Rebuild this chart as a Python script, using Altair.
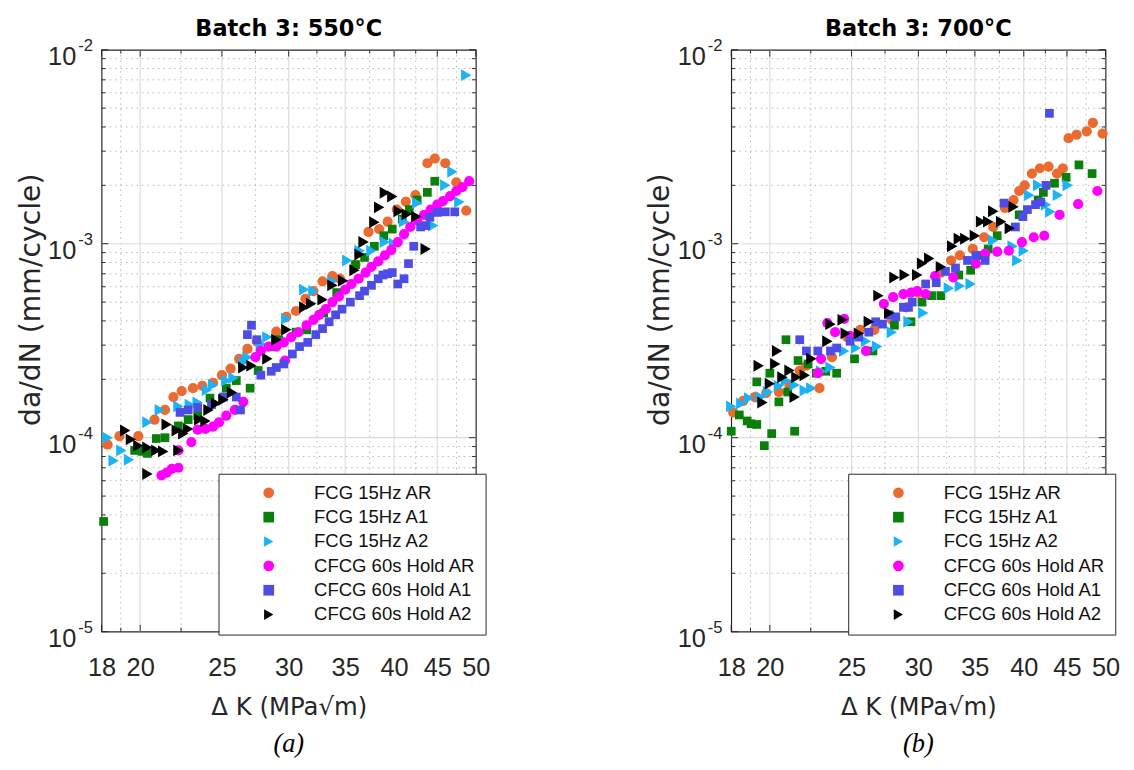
import altair as alt
import pandas as pd

SERIES = ["FCG 15Hz AR", "FCG 15Hz A1", "FCG 15Hz A2",
          "CFCG 60s Hold AR", "CFCG 60s Hold A1", "CFCG 60s Hold A2"]
COLORS = ["#EA6A2F", "#0A800A", "#1CB2F5", "#FF00FF", "#4D4DE6", "#000000"]
SHAPES = ["circle", "square", "triangle-right", "circle", "square", "triangle-right"]
SIZES = [110, 80, 150, 110, 80, 150]

# ---------------- Batch 3: 550 C ----------------
dk550_ar = [18.3, 18.9, 19.9, 20.8, 21.4, 21.9, 22.4, 23.1, 23.7, 24.4, 25.0, 25.6, 26.2, 26.8, 27.5,
            29.0, 29.8, 30.6, 31.4, 32.1, 32.9, 33.8, 34.5, 36.0, 37.3, 38.4, 39.3, 40.3, 41.3, 42.4,
            43.8, 44.7, 46.0, 47.4, 48.7]
dadn550_ar = [9.2e-5, 1.02e-4, 1.02e-4, 1.24e-4, 1.39e-4, 1.62e-4, 1.74e-4, 1.80e-4, 1.85e-4, 1.92e-4,
              2.10e-4, 2.27e-4, 2.55e-4, 2.87e-4, 3.14e-4, 3.52e-4, 4.2e-4, 4.5e-4, 5.2e-4, 5.7e-4,
              6.4e-4, 6.8e-4, 6.6e-4, 7.8e-4, 1.15e-3, 1.19e-3, 1.3e-3, 1.5e-3, 1.65e-3, 1.78e-3,
              2.6e-3, 2.75e-3, 2.6e-3, 2.07e-3, 1.48e-3]

dk550_a1 = [18.1, 19.7, 20.1, 20.4, 20.9, 21.4, 22.2, 22.8, 23.4, 24.2, 25.3, 26.0, 27.0, 27.6, 28.7,
            29.2, 30.6, 31.5, 33.0, 34.2, 36.0, 36.9, 37.9, 38.9, 39.8, 40.9, 41.7, 42.6, 43.8, 44.7]
dadn550_a1 = [3.7e-5, 8.6e-5, 8.5e-5, 8.3e-5, 9.9e-5, 1.0e-4, 1.15e-4, 1.24e-4, 1.3e-4, 1.6e-4,
              1.8e-4, 1.97e-4, 1.8e-4, 2.22e-4, 2.95e-4, 3.2e-4, 3.5e-4, 3.6e-4, 4.4e-4, 5.6e-4,
              7.8e-4, 8.5e-4, 9.7e-4, 1.1e-3, 1.19e-3, 1.34e-3, 1.5e-3, 1.68e-3, 1.84e-3, 2.1e-3]

dk550_a2 = [18.3, 18.6, 19.0, 19.4, 20.4, 21.1, 22.2, 22.9, 23.4, 24.0, 24.4, 25.3, 25.8, 26.5, 26.8,
            27.8, 28.3, 29.8, 31.3, 32.1, 33.8, 35.2, 36.4, 37.6, 39.0, 40.0, 41.1, 42.6, 44.5, 46.0,
            46.9, 47.8, 48.7]
dadn550_a2 = [1.0e-4, 7.6e-5, 8.6e-5, 7.7e-5, 1.2e-4, 1.39e-4, 1.45e-4, 1.48e-4, 1.52e-4, 1.76e-4,
              1.87e-4, 1.97e-4, 2.03e-4, 2.45e-4, 2.6e-4, 3.04e-4, 3.3e-4, 4.1e-4, 5.8e-4, 5.7e-4,
              6.4e-4, 8.2e-4, 9.2e-4, 9.2e-4, 1.02e-3, 1.0e-3, 1.3e-3, 1.62e-3, 1.24e-3, 2.0e-3,
              2.35e-3, 1.64e-3, 7.4e-3]

dk550_car = [21.2, 21.5, 21.8, 22.2, 22.2, 23.0, 23.4, 23.9, 24.4, 24.8, 25.3, 25.9, 26.5, 27.4, 27.8,
             28.4, 29.0, 29.6, 30.2, 30.8, 31.5, 32.1, 32.6, 33.2, 33.8, 34.4, 35.0, 35.6, 36.3, 37.0,
             37.6, 38.3, 39.0, 39.7, 40.4, 41.1, 41.8, 42.6, 43.4, 44.2, 45.0, 45.7, 46.6, 47.4, 48.2,
             49.1, 29.7]
dadn550_car = [6.4e-5, 6.6e-5, 6.9e-5, 7.0e-5, 8.6e-5, 9.5e-5, 1.1e-4, 1.11e-4, 1.14e-4, 1.2e-4,
               1.3e-4, 1.39e-4, 1.53e-4, 2.6e-4, 2.8e-4, 2.95e-4, 2.95e-4, 3.1e-4, 3.3e-4, 3.5e-4,
               3.8e-4, 4.05e-4, 4.3e-4, 4.6e-4, 5.0e-4, 5.35e-4, 5.8e-4, 6.2e-4, 6.6e-4, 7.1e-4,
               7.6e-4, 8.1e-4, 8.7e-4, 9.3e-4, 1.02e-3, 1.12e-3, 1.22e-3, 1.32e-3, 1.41e-3, 1.5e-3,
               1.59e-3, 1.66e-3, 1.76e-3, 1.87e-3, 1.96e-3, 2.1e-3, 2.5e-4]

dk550_ca1 = [22.3, 22.8, 23.4, 24.3, 25.1, 26.0, 26.3, 26.8, 27.1, 27.5, 28.6, 29.0, 29.6, 30.3, 30.9,
             31.6, 32.3, 32.9, 33.5, 34.1, 34.7, 35.5, 36.4, 36.9, 37.6, 38.3, 38.8, 39.3, 39.8, 40.4,
             41.1, 41.6, 42.2, 43.0, 43.6, 44.1, 45.0, 46.0, 47.2, 27.8]
dadn550_ca1 = [1.35e-4, 1.39e-4, 1.43e-4, 1.48e-4, 1.62e-4, 1.62e-4, 1.39e-4, 3.4e-4, 3.8e-4, 3.2e-4,
               2.2e-4, 2.3e-4, 2.4e-4, 2.7e-4, 2.95e-4, 3.1e-4, 3.4e-4, 3.65e-4, 3.96e-4, 4.3e-4,
               4.6e-4, 5.0e-4, 5.4e-4, 5.7e-4, 6.1e-4, 6.6e-4, 6.9e-4, 7.0e-4, 7.1e-4, 6.2e-4,
               6.6e-4, 7.9e-4, 9.7e-4, 1.22e-3, 1.24e-3, 1.37e-3, 1.45e-3, 1.46e-3, 1.46e-3, 2.1e-4]

dk550_ca2 = [19.2, 19.5, 19.9, 20.4, 20.9, 21.3, 20.4, 21.5, 22.1, 22.2, 22.8, 23.5, 24.1, 25.1, 25.7,
             26.5, 27.1, 28.3, 29.0, 29.8, 31.3, 31.9, 32.9, 33.8, 34.8, 35.9, 36.4, 36.8, 37.9, 38.4,
             39.0, 39.8, 40.5, 41.4, 42.5, 43.6, 22.5, 23.9, 24.6]
dadn550_ca2 = [1.09e-4, 9.8e-5, 9.1e-5, 8.9e-5, 8.6e-5, 8.5e-5, 6.5e-5, 1.17e-4, 1.09e-4, 8.6e-5,
               1.11e-4, 1.24e-4, 1.39e-4, 1.57e-4, 1.71e-4, 2.3e-4, 2.35e-4, 2.55e-4, 3.2e-4, 3.6e-4,
               4.7e-4, 4.9e-4, 5.15e-4, 6.1e-4, 6.45e-4, 7.3e-4, 8.8e-4, 1.02e-3, 1.29e-3, 1.54e-3,
               1.83e-3, 1.75e-3, 1.47e-3, 1.42e-3, 1.38e-3, 9.4e-4, 1.05e-4, 1.22e-4, 1.5e-4]

# ---------------- Batch 3: 700 C ----------------
dk700_ar = [18.1, 18.6, 19.2, 19.8, 20.5, 21.1, 21.7, 22.1, 22.9, 23.7, 24.7, 25.6, 26.6, 27.9, 29.0,
            30.0, 31.9, 32.8, 33.6, 34.8, 35.9, 36.8, 38.0, 38.9, 39.5, 40.1, 40.9, 41.8, 42.8, 43.8,
            44.5, 45.2, 46.2, 47.5, 48.3, 49.6]
dadn700_ar = [1.35e-4, 1.55e-4, 1.62e-4, 1.7e-4, 1.72e-4, 1.87e-4, 2.22e-4, 2.35e-4, 1.8e-4, 2.6e-4,
              3.3e-4, 3.6e-4, 3.6e-4, 4.05e-4, 4.7e-4, 5.6e-4, 7.1e-4, 8.2e-4, 8.7e-4, 9.4e-4,
              1.08e-3, 1.22e-3, 1.53e-3, 1.68e-3, 1.87e-3, 2.0e-3, 2.3e-3, 2.45e-3, 2.5e-3, 2.3e-3,
              2.45e-3, 3.5e-3, 3.65e-3, 3.8e-3, 4.2e-3, 3.7e-3]

dk700_a1 = [18.0, 18.4, 18.8, 19.0, 19.3, 19.7, 20.1, 21.4, 19.3, 20.0, 20.5, 20.9, 21.0, 21.6, 22.2,
            22.7, 23.3, 24.0, 25.2, 26.5, 28.1, 29.4, 30.3, 31.1, 31.9, 33.5, 34.6, 35.5, 36.3, 37.2,
            39.5, 41.6, 42.2, 43.5, 44.9, 46.5, 48.2]
dadn700_a1 = [1.08e-4, 1.31e-4, 1.22e-4, 1.18e-4, 1.17e-4, 9.1e-5, 1.05e-4, 1.08e-4, 1.94e-4, 2.15e-4,
              1.53e-4, 3.2e-4, 1.72e-4, 2.5e-4, 2.4e-4, 2.15e-4, 2.2e-4, 2.15e-4, 2.55e-4, 2.8e-4,
              3.8e-4, 3.96e-4, 5.0e-4, 5.4e-4, 5.4e-4, 6.9e-4, 7.3e-4, 8.7e-4, 9.4e-4, 1.1e-3,
              1.41e-3, 1.68e-3, 1.84e-3, 2.05e-3, 2.2e-3, 2.55e-3, 2.3e-3]

dk700_a2 = [18.0, 18.5, 18.9, 19.5, 19.9, 20.5, 20.9, 21.4, 22.0, 22.4, 23.0, 23.6, 24.5, 25.3, 26.0,
            26.8, 27.9, 29.2, 30.4, 32.6, 33.6, 34.6, 36.8, 38.8, 39.3, 40.0, 40.6, 41.6, 42.5, 43.0,
            43.9, 45.1]
dadn700_a2 = [1.45e-4, 1.5e-4, 1.6e-4, 1.62e-4, 1.72e-4, 1.85e-4, 1.97e-4, 1.87e-4, 1.75e-4, 1.8e-4,
              2.2e-4, 2.3e-4, 2.8e-4, 2.9e-4, 3.14e-4, 2.95e-4, 3.5e-4, 3.96e-4, 4.4e-4, 5.9e-4,
              6.05e-4, 6.2e-4, 1.04e-3, 9.7e-4, 8.2e-4, 9.2e-4, 1.78e-3, 2.0e-3, 1.59e-3, 1.46e-3,
              1.78e-3, 2.0e-3]

dk700_car = [22.8, 23.0, 23.4, 23.9, 24.5, 24.9, 26.0, 27.3, 28.0, 28.8, 29.4, 29.9, 30.6, 31.4, 33.0,
             35.1, 36.0, 37.2, 38.4, 39.8, 41.1, 42.3, 44.1, 46.4, 48.9]
dadn700_car = [2.15e-4, 2.55e-4, 3.9e-4, 3.5e-4, 4.1e-4, 3.35e-4, 2.8e-4, 4.9e-4, 5.3e-4, 5.5e-4,
               5.6e-4, 5.7e-4, 5.5e-4, 6.8e-4, 6.7e-4, 7.9e-4, 8.9e-4, 9.1e-4, 9.2e-4, 1.02e-3,
               1.08e-3, 1.1e-3, 1.41e-3, 1.6e-3, 1.87e-3]

dk700_ca1 = [21.7, 22.1, 22.8, 23.6, 24.0, 24.9, 25.5, 26.2, 26.7, 27.2, 27.7, 28.2, 28.8, 29.2, 29.5,
             30.6, 31.5, 32.3, 33.2, 34.3, 35.1, 36.0, 37.9, 39.1, 39.9, 40.4, 41.3, 41.9, 42.5, 42.9]
dadn700_ca1 = [3.2e-4, 2.8e-4, 2.8e-4, 2.8e-4, 2.9e-4, 3.14e-4, 3.3e-4, 3.5e-4, 3.96e-4, 3.85e-4,
               4.3e-4, 4.2e-4, 4.7e-4, 4.7e-4, 5.0e-4, 6.2e-4, 6.3e-4, 7.2e-4, 7.5e-4, 8.2e-4,
               8.7e-4, 8.2e-4, 1.62e-3, 1.22e-3, 1.38e-3, 1.5e-3, 1.59e-3, 1.64e-3, 2.0e-3, 4.7e-3]

dk700_ca2 = [19.4, 19.6, 20.0, 20.3, 20.4, 20.7, 21.1, 21.4, 21.5, 22.0, 22.4, 23.4, 23.6, 24.4, 24.6,
             25.5, 26.2, 26.9, 27.7, 28.1, 28.9, 29.9, 30.3, 30.9, 31.9, 32.9, 33.5, 34.1, 35.0, 35.6,
             36.3, 36.8, 37.6, 38.5, 38.9]
dadn700_ca2 = [2.35e-4, 1.52e-4, 1.9e-4, 2.4e-4, 2.8e-4, 2.05e-4, 2.22e-4, 1.62e-4, 2.05e-4, 2.1e-4,
               2.55e-4, 3.14e-4, 3.85e-4, 4.05e-4, 3.45e-4, 3.45e-4, 3.96e-4, 5.4e-4, 4.4e-4, 6.7e-4,
               6.9e-4, 6.9e-4, 7.9e-4, 8.4e-4, 7.6e-4, 9.7e-4, 1.06e-3, 1.06e-3, 1.1e-3, 1.3e-3,
               1.3e-3, 1.47e-3, 1.3e-3, 1.2e-3, 1.55e-3]

# ---------------- axes ----------------
X_MAJOR = [18, 20, 25, 30, 35, 40, 45, 50]
X_MINOR = [18.97, 22.36, 27.39, 32.40, 37.42, 42.43, 47.43]
X_GRID = [20, 25, 30, 35, 40, 45]
Y_MAJOR = [1e-5, 1e-4, 1e-3, 1e-2]
Y_EXP = ["-5", "-4", "-3", "-2"]
Y_GRID = [1e-4, 1e-3]
Y_MINOR = [2e-5, 3e-5, 4e-5, 5e-5, 6e-5, 7e-5, 8e-5, 9e-5,
           2e-4, 3e-4, 4e-4, 5e-4, 6e-4, 7e-4, 8e-4, 9e-4,
           2e-3, 3e-3, 4e-3, 5e-3, 6e-3, 7e-3, 8e-3, 9e-3]

W, H = 384, 597
FONT = "Liberation Sans"
TFONT = "DejaVu Sans"
XS = alt.Scale(type="log", domain=[18, 50], nice=False)
YS = alt.Scale(type="log", domain=[1e-5, 1e-2], nice=False)
AXC = "#262626"

X_AX = alt.Axis(values=X_MAJOR, format="d", labelFontSize=26, labelPadding=24,
                ticks=False, tickSize=0, domain=False, grid=False,
                labelFlush=False, labelOverlap=False,
                title="Δ K (MPa√m)", titleFont=TFONT, titleFontSize=25, titlePadding=15)
Y_AX = alt.Axis(labels=False, ticks=False, tickSize=0, domain=False, grid=False,
                title="da/dN (mm/cycle)", titleFont=TFONT, titleFontSize=29, titlePadding=58,
                titleY=256)


def xrules(vals, color, width=1, dash=None, y0=None, y1=None):
    kw = dict(color=color, strokeWidth=width)
    if dash:
        kw["strokeDash"] = dash
    enc = dict(x=alt.X("v:Q", scale=XS, axis=X_AX))
    if y0 is not None:
        enc["y"] = alt.value(y0)
        enc["y2"] = alt.value(y1)
    return alt.Chart(pd.DataFrame({"v": vals})).mark_rule(**kw).encode(**enc)


def yrules(vals, color, width=1, dash=None, x0=None, x1=None):
    kw = dict(color=color, strokeWidth=width)
    if dash:
        kw["strokeDash"] = dash
    enc = dict(y=alt.Y("v:Q", scale=YS, axis=Y_AX))
    if x0 is not None:
        enc["x"] = alt.value(x0)
        enc["x2"] = alt.value(x1)
    return alt.Chart(pd.DataFrame({"v": vals})).mark_rule(**kw).encode(**enc)


def panel(series_data, title, caption):
    rows = []
    for name, sz, (dk, dadn) in zip(SERIES, SIZES, series_data):
        for a, b in zip(dk, dadn):
            rows.append({"series": name, "dk": a, "dadn": b, "sz": sz})
    df = pd.DataFrame(rows)

    leg = alt.Legend(orient="none", legendX=120, legendY=435, title=None, padding=10,
                     fillColor="white", strokeColor=AXC, labelFontSize=19, labelFont=FONT,
                     labelColor="#111111", symbolSize=120, symbolStrokeWidth=0, rowPadding=5,
                     symbolOffset=32, labelOffset=37, labelLimit=400, cornerRadius=0)

    points = alt.Chart(df).mark_point(filled=True, opacity=1).encode(
        x=alt.X("dk:Q", scale=XS, axis=X_AX),
        y=alt.Y("dadn:Q", scale=YS, axis=Y_AX),
        color=alt.Color("series:N", scale=alt.Scale(domain=SERIES, range=COLORS), legend=leg),
        shape=alt.Shape("series:N", scale=alt.Scale(domain=SERIES, range=SHAPES), legend=leg),
        size=alt.Size("sz:Q", scale=None),
    )

    layers = [
        xrules(X_MINOR, "#B5B5B5", 1, [1.5, 4]),
        yrules(Y_MINOR, "#B5B5B5", 1, [1.5, 4]),
        xrules(X_GRID, "#DCDCDC", 1.2),
        yrules(Y_GRID, "#DCDCDC", 1.2),
        xrules(X_MAJOR, AXC, 1, None, H, H - 7),
        xrules(X_MAJOR, AXC, 1, None, 0, 7),
        xrules(X_MINOR, AXC, 1, None, H, H - 4),
        xrules(X_MINOR, AXC, 1, None, 0, 4),
        yrules(Y_MAJOR, AXC, 1, None, 0, 7),
        yrules(Y_MAJOR, AXC, 1, None, W, W - 7),
        yrules(Y_MINOR, AXC, 1, None, 0, 4),
        yrules(Y_MINOR, AXC, 1, None, W, W - 4),
        points,
    ]

    ylab = pd.DataFrame({"v": Y_MAJOR, "e": Y_EXP})
    tens = alt.Chart(ylab).mark_text(align="right", baseline="middle", fontSize=26, font=FONT,
                                     color=AXC, dy=8).encode(
        y=alt.Y("v:Q", scale=YS, axis=Y_AX), x=alt.value(-26), text=alt.value("10"))
    exps = alt.Chart(ylab).mark_text(align="left", baseline="middle", fontSize=17, font=FONT,
                                     color=AXC, dy=-4).encode(
        y=alt.Y("v:Q", scale=YS, axis=Y_AX), x=alt.value(-24), text="e:N")
    ttl = alt.Chart(pd.DataFrame({"t": [title]})).mark_text(
        font=TFONT, fontWeight="bold", fontSize=23, color="#000000",
        baseline="middle", align="center").encode(
        text="t:N", x=alt.value(W / 2), y=alt.value(-21))
    cap = alt.Chart(pd.DataFrame({"t": [caption]})).mark_text(
        font="Liberation Serif", fontStyle="italic", fontSize=27, color="#000000",
        baseline="middle", align="center").encode(
        text="t:N", x=alt.value(W / 2), y=alt.value(712))
    layers += [tens, exps, ttl, cap]

    return alt.layer(*layers).properties(width=W, height=H)


left = panel([(dk550_ar, dadn550_ar), (dk550_a1, dadn550_a1), (dk550_a2, dadn550_a2),
              (dk550_car, dadn550_car), (dk550_ca1, dadn550_ca1), (dk550_ca2, dadn550_ca2)],
             "Batch 3: 550°C", "(a)")
right = panel([(dk700_ar, dadn700_ar), (dk700_a1, dadn700_a1), (dk700_a2, dadn700_a2),
               (dk700_car, dadn700_car), (dk700_ca1, dadn700_ca1), (dk700_ca2, dadn700_ca2)],
              "Batch 3: 700°C", "(b)")

chart = alt.hconcat(left, right, spacing=158).resolve_scale(
    color="independent", shape="independent"
).resolve_legend(
    color="independent", shape="independent"
).properties(
    padding={"left": 8, "top": 0, "right": 5, "bottom": 0}
).configure_view(stroke=AXC, strokeWidth=1.2).configure_axis(
    labelFont=FONT, titleFont=TFONT, labelColor=AXC, titleColor=AXC, titleFontWeight="normal"
)

chart.save("out.html", embed_options={"renderer": "svg", "actions": False})
